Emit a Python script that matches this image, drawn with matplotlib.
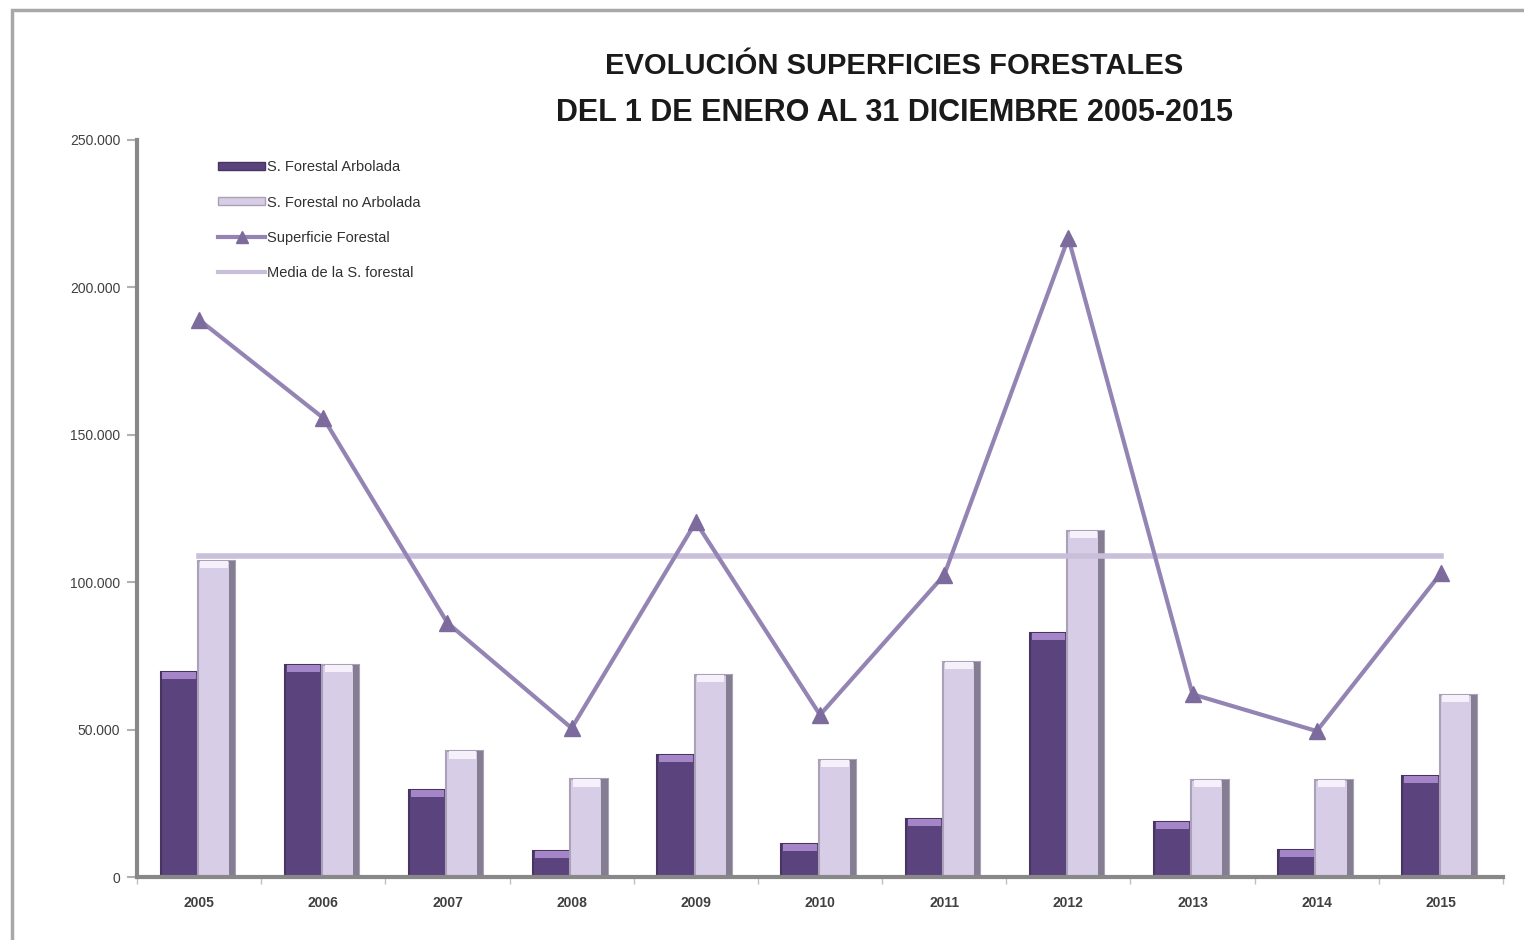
import numpy as np
import matplotlib.pyplot as plt
from matplotlib.patches import Rectangle
from matplotlib.lines import Line2D
from matplotlib.ticker import FuncFormatter

# ── Data (hectares) ───────────────────────────────────────────────────────────
years = ["2005", "2006", "2007", "2008", "2009", "2010",
         "2011", "2012", "2013", "2014", "2015"]
arbolada    = [69500, 71900, 29500, 8800, 41400, 11200, 19700, 82800, 18700, 9200, 34300]
no_arbolada = [107200, 71900, 42700, 33200, 68500, 39700, 72900, 117400, 32900, 32900, 61700]
superficie  = [189000, 155700, 86200, 50500, 120400, 55000, 102400, 216800, 62000, 49500, 103000]
media       = 109000

# ── Style ─────────────────────────────────────────────────────────────────────
dark_fc  = "#5b437e"
dark_ec  = "#46355f"
dark_top = "#a486c8"
light_fc = "#d8cde6"
light_ec = "#aaa0b8"
light_sd = "#857d92"
line_c   = "#9484b4"
mark_c   = "#7c6b9c"
mean_c   = "#c9bfda"

plt.rcParams["font.family"] = ["Liberation Sans", "DejaVu Sans"]

fig = plt.figure(figsize=(15.24, 9.4), dpi=100, facecolor="white")
ax = fig.add_axes([0.0899, 0.0670, 0.8963, 0.7841])

x = np.arange(len(years))
w = 0.30
cap = 2500  # height of the bevel highlight on top of the bars

ax.bar(x - 0.16, arbolada, width=w, color=dark_fc, edgecolor=dark_ec, linewidth=1.5, zorder=2)
ax.bar(x - 0.16, cap, bottom=np.array(arbolada) - cap, width=w - 0.03,
       color=dark_top, linewidth=0, zorder=2.5)
ax.bar(x + 0.14, no_arbolada, width=w, color=light_fc, edgecolor=light_ec, linewidth=1.5, zorder=2)
ax.bar(x + 0.14 + w / 2 - 0.025, no_arbolada, width=0.05, color=light_sd, linewidth=0, zorder=2.5)
ax.bar(x + 0.12, cap, bottom=np.array(no_arbolada) - cap, width=w - 0.08,
       color="#f6f0fb", linewidth=0, zorder=2.5)

ax.plot(x, superficie, color=line_c, linewidth=3, marker="^", markersize=11,
        markerfacecolor=mark_c, markeredgecolor=mark_c, zorder=4)
ax.plot(x, [media] * len(x), color=mean_c, linewidth=4, zorder=3)

ax.set_xlim(-0.5, len(years) - 0.5)
ax.set_ylim(0, 250000)
ax.set_yticks(np.arange(0, 250001, 50000))
ax.yaxis.set_major_formatter(FuncFormatter(lambda v, p: f"{int(v):,}".replace(",", ".")))
ax.set_xticks(x)
ax.set_xticklabels(years, fontsize=10, fontweight="bold", color="#404040")
ax.set_xticks(np.arange(-0.5, len(years), 1), minor=True)
ax.tick_params(axis="x", which="major", length=0, pad=14)
ax.tick_params(axis="x", which="minor", length=5, width=1, color="#c0c0c0", direction="out")
ax.tick_params(axis="y", length=7, width=1.5, color="#b0b0b0", labelsize=10,
               labelcolor="#404040", pad=5)

for side in ["top", "right"]:
    ax.spines[side].set_visible(False)
ax.spines["left"].set_color("#888888")
ax.spines["left"].set_linewidth(3)
ax.spines["bottom"].set_color("#888888")
ax.spines["bottom"].set_linewidth(3)

# ── Title ─────────────────────────────────────────────────────────────────────
fig.text(0.587, 0.930, "EVOLUCIÓN SUPERFICIES FORESTALES",
         ha="center", va="center", fontsize=21, fontweight="bold", color="#1a1a1a")
fig.text(0.587, 0.880, "DEL 1 DE ENERO AL 31 DICIEMBRE 2005-2015",
         ha="center", va="center", fontsize=22, fontweight="bold", color="#1a1a1a")

# ── Legend ────────────────────────────────────────────────────────────────────
handles = [
    Rectangle((0, 0), 1, 1, facecolor=dark_fc, edgecolor=dark_ec),
    Rectangle((0, 0), 1, 1, facecolor=light_fc, edgecolor=light_ec),
    Line2D([], [], color=line_c, linewidth=3, marker="^", markersize=9,
           markerfacecolor=mark_c, markeredgecolor=mark_c),
    Line2D([], [], color=mean_c, linewidth=3),
]
labels = ["S. Forestal Arbolada", "S. Forestal no Arbolada",
          "Superficie Forestal", "Media de la S. forestal"]
leg = ax.legend(handles, labels, loc="upper left", bbox_to_anchor=(0.05, 0.99),
                frameon=False, fontsize=10.5, handlelength=3.2, handleheight=0.45,
                handletextpad=0.1, labelspacing=1.45)
for t in leg.get_texts():
    t.set_color("#303030")

# ── Outer frame ───────────────────────────────────────────────────────────────
fig.patches.append(Rectangle((12 / 1524, -0.05), 1.1, 1.05 - 10 / 940,
                             transform=fig.transFigure, fill=False,
                             edgecolor="#a8a8a8", linewidth=2.5))

fig.savefig("out.png", dpi=100, facecolor="white")
